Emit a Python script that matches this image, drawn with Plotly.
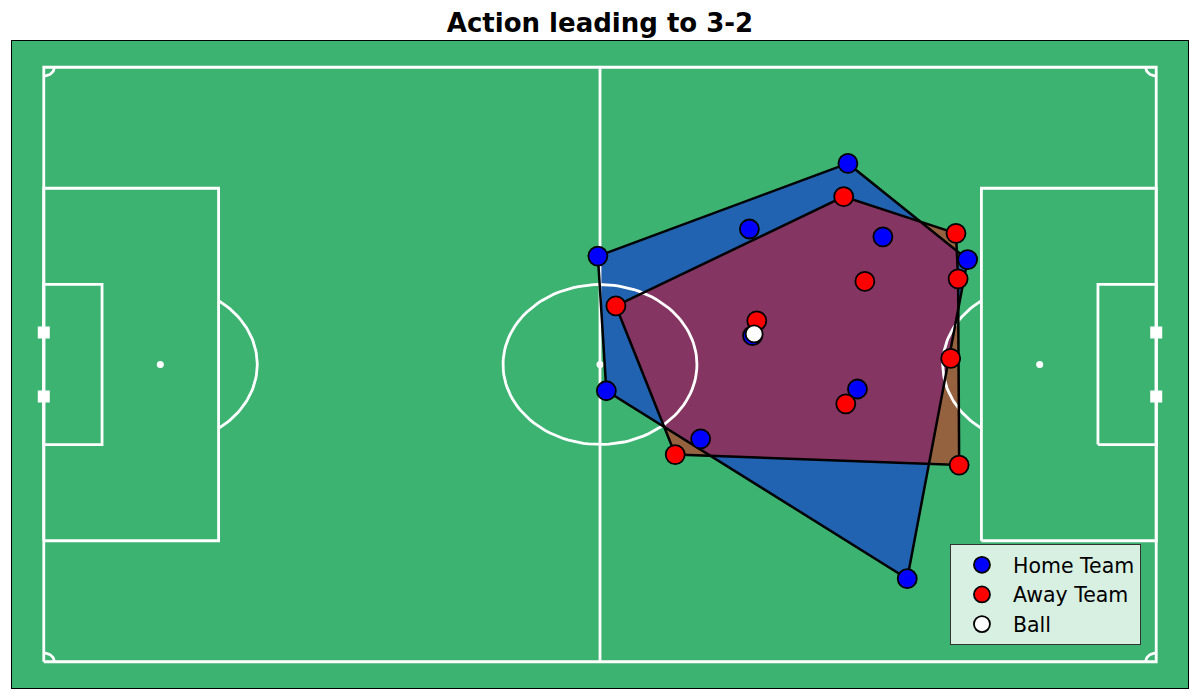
import numpy as np
import plotly.graph_objects as go

# Dimensiones del campo (metros)
PITCH_L = 105
PITCH_W = 68

# Posiciones de jugadores (x, y) en metros
home_x = [75.9, 66.6, 79.2, 52.3, 87.2, 76.8, 53.1, 62.0, 81.5, 66.9]
home_y = [57.0, 49.5, 48.6, 46.4, 46.0, 31.2, 31.0, 25.5, 9.5, 37.3]
away_x = [75.5, 86.1, 86.3, 77.5, 54.0, 67.3, 85.6, 75.7, 59.6, 86.4]
away_y = [53.2, 49.0, 43.8, 43.5, 40.7, 39.0, 34.7, 29.5, 23.7, 22.5]
ball_x = [67.05]
ball_y = [37.5]

title_text = "Action leading to 3-2"
legend_names = ["Home Team", "Away Team", "Ball"]


def convex_hull(xs, ys):
    # cadena monótona de Andrew
    pts = sorted(set(zip(xs, ys)))
    def cross(o, a, b):
        return (a[0] - o[0]) * (b[1] - o[1]) - (a[1] - o[1]) * (b[0] - o[0])
    lower, upper = [], []
    for p in pts:
        while len(lower) >= 2 and cross(lower[-2], lower[-1], p) <= 0:
            lower.pop()
        lower.append(p)
    for p in reversed(pts):
        while len(upper) >= 2 and cross(upper[-2], upper[-1], p) <= 0:
            upper.pop()
        upper.append(p)
    hull = lower[:-1] + upper[:-1]
    hull.append(hull[0])
    return [p[0] for p in hull], [p[1] for p in hull]


def rect(x0, y0, x1, y1):
    return [x0, x1, x1, x0, x0], [y0, y0, y1, y1, y0]


fig = go.Figure()
line_w = dict(color="white", width=2.8)

hx, hy = convex_hull(home_x, home_y)
axh, ayh = convex_hull(away_x, away_y)

# Relleno de las envolventes (debajo de las líneas del campo)
fig.add_trace(go.Scatter(x=hx, y=hy, mode="lines", fill="toself",
                         fillcolor="rgba(0,0,255,0.45)", line=dict(width=0),
                         hoverinfo="skip", showlegend=False))
fig.add_trace(go.Scatter(x=axh, y=ayh, mode="lines", fill="toself",
                         fillcolor="rgba(255,0,0,0.45)", line=dict(width=0),
                         hoverinfo="skip", showlegend=False))

# Líneas del campo
mid = PITCH_W / 2
lines = [
    rect(0, 0, PITCH_L, PITCH_W),
    ([PITCH_L / 2, PITCH_L / 2], [0, PITCH_W]),
    rect(0, mid - 20.16, 16.5, mid + 20.16),
    rect(PITCH_L - 16.5, mid - 20.16, PITCH_L, mid + 20.16),
    rect(0, mid - 9.16, 5.5, mid + 9.16),
    rect(PITCH_L - 5.5, mid - 9.16, PITCH_L, mid + 9.16),
]
full = np.linspace(0, 2 * np.pi, 120)
lines.append((PITCH_L / 2 + 9.15 * np.cos(full), mid + 9.15 * np.sin(full)))
t = np.arccos(5.5 / 9.15)
ang = np.linspace(-t, t, 60)
lines.append((11 + 9.15 * np.cos(ang), mid + 9.15 * np.sin(ang)))
lines.append((PITCH_L - 11 - 9.15 * np.cos(ang), mid + 9.15 * np.sin(ang)))
q = np.linspace(0, np.pi / 2, 20)
for cx, cy, sx, sy in [(0, 0, 1, 1), (0, PITCH_W, 1, -1), (PITCH_L, 0, -1, 1), (PITCH_L, PITCH_W, -1, -1)]:
    lines.append((cx + sx * np.cos(q), cy + sy * np.sin(q)))
for lx, ly in lines:
    fig.add_trace(go.Scatter(x=lx, y=ly, mode="lines", line=line_w,
                             hoverinfo="skip", showlegend=False))

# Puntos de penalti, centro y postes
fig.add_trace(go.Scatter(x=[11, PITCH_L / 2, PITCH_L - 11], y=[mid] * 3, mode="markers",
                         marker=dict(color="white", size=7), hoverinfo="skip", showlegend=False))
fig.add_trace(go.Scatter(x=[0, 0, PITCH_L, PITCH_L],
                         y=[mid - 3.66, mid + 3.66] * 2, mode="markers",
                         marker=dict(color="white", size=12, symbol="square"),
                         hoverinfo="skip", showlegend=False))

# Contornos de las envolventes
fig.add_trace(go.Scatter(x=hx, y=hy, mode="lines", line=dict(color="black", width=2.5),
                         hoverinfo="skip", showlegend=False))
fig.add_trace(go.Scatter(x=axh, y=ayh, mode="lines", line=dict(color="black", width=2.5),
                         hoverinfo="skip", showlegend=False))

# Jugadores y balón
fig.add_trace(go.Scatter(x=home_x, y=home_y, mode="markers", name=legend_names[0],
                         marker=dict(color="blue", size=19, line=dict(color="black", width=1.8))))
fig.add_trace(go.Scatter(x=away_x, y=away_y, mode="markers", name=legend_names[1],
                         marker=dict(color="red", size=19, line=dict(color="black", width=1.8))))
fig.add_trace(go.Scatter(x=ball_x, y=ball_y, mode="markers", name=legend_names[2],
                         marker=dict(color="white", size=17, line=dict(color="black", width=1.8))))

fig.update_layout(
    width=1184, height=684,
    title=dict(text="<b>" + title_text + "</b>", x=0.5, xanchor="center", y=0.978, yanchor="middle",
               font=dict(family="DejaVu Sans", size=26, color="black")),
    margin=dict(l=4, r=4, t=33, b=4),
    paper_bgcolor="white",
    plot_bgcolor="#3CB371",
    font=dict(family="DejaVu Sans", color="black"),
    legend=dict(x=0.96, xanchor="right", y=0.0665, yanchor="bottom",
                bgcolor="rgba(255,255,255,0.8)", bordercolor="#333333", borderwidth=1,
                font=dict(size=20.5), itemwidth=52),
    xaxis=dict(range=[-3, PITCH_L + 3], showgrid=False, zeroline=False, showticklabels=False,
               ticks="", showline=True, mirror=True, linecolor="black", linewidth=1.2, fixedrange=True),
    yaxis=dict(range=[-3, PITCH_W + 3], showgrid=False, zeroline=False, showticklabels=False,
               ticks="", showline=True, mirror=True, linecolor="black", linewidth=1.2, fixedrange=True),
)

fig.write_html("out.html")
